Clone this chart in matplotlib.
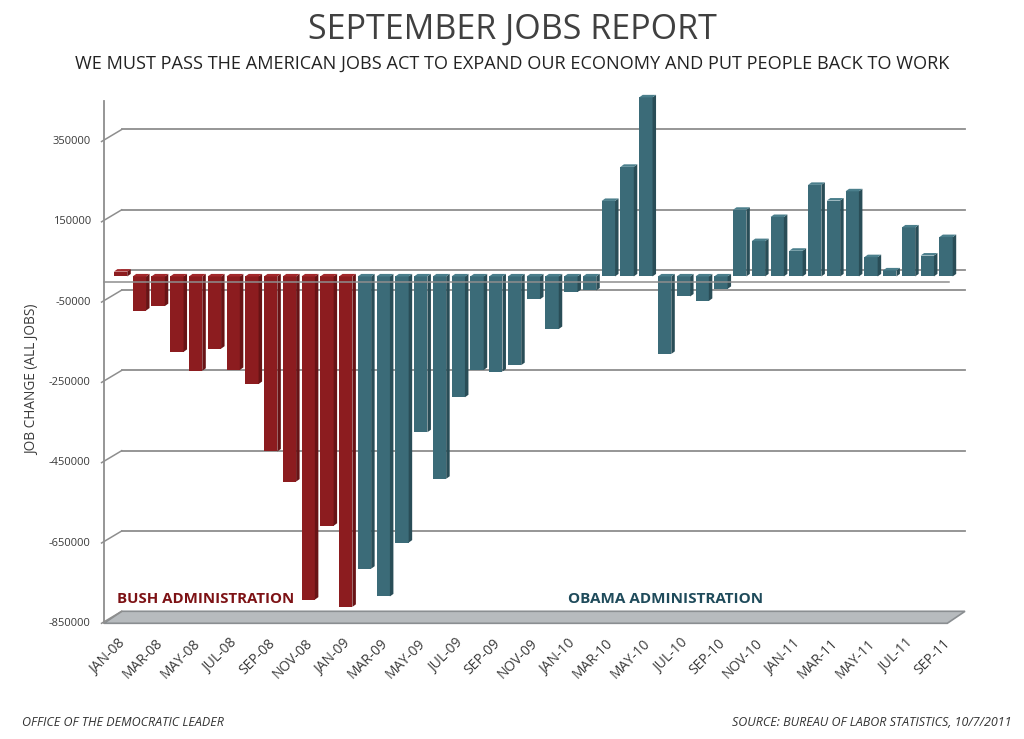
"""September jobs report: monthly payroll change, Bush vs Obama months, Excel-style 3D bars."""

import matplotlib

matplotlib.use("Agg")
import matplotlib.pyplot as plt
from matplotlib.patches import Polygon

plt.rcParams["font.family"] = ["Open Sans", "DejaVu Sans"]

months = [
    "JAN-08", "FEB-08", "MAR-08", "APR-08", "MAY-08", "JUN-08", "JUL-08", "AUG-08",
    "SEP-08", "OCT-08", "NOV-08", "DEC-08", "JAN-09", "FEB-09", "MAR-09", "APR-09",
    "MAY-09", "JUN-09", "JUL-09", "AUG-09", "SEP-09", "OCT-09", "NOV-09", "DEC-09",
    "JAN-10", "FEB-10", "MAR-10", "APR-10", "MAY-10", "JUN-10", "JUL-10", "AUG-10",
    "SEP-10", "OCT-10", "NOV-10", "DEC-10", "JAN-11", "FEB-11", "MAR-11", "APR-11",
    "MAY-11", "JUN-11", "JUL-11", "AUG-11", "SEP-11",
]
job_change = [
    12000, -85000, -74000, -188000, -235000, -180000, -233000, -268000,
    -436000, -511000, -805000, -621000, -823000, -728000, -797000, -663000,
    -388000, -504000, -301000, -233000, -237000, -221000, -57000, -131000,
    -39000, -35000, 188000, 273000, 446000, -193000, -50000, -61000,
    -31000, 166000, 88000, 148000, 64000, 228000, 189000, 212000,
    48000, 15000, 122000, 52000, 98000,
]
n_bush = 13  # JAN-08 .. JAN-09
y_ticks = [350000, 150000, -50000, -250000, -450000, -650000, -850000]

BUSH = {"front": "#8c1c1f", "side": "#681315", "top": "#a3292c"}
OBAMA = {"front": "#3b6b78", "side": "#294d57", "top": "#4b7f8c"}
GRID = "#8e8e8e"

W, H = 1024, 739
PX_X = 18.76            # pixels per month
PX_Y = 80.3 / 200000    # pixels per job
AX_LEFT, AX_BOTTOM, AX_TOP = 104, 623.3, 101

fig = plt.figure(figsize=(W / 100, H / 100), dpi=100)
ax = fig.add_axes([
    AX_LEFT / W,
    (H - AX_BOTTOM) / H,
    len(months) * PX_X / W,
    (AX_BOTTOM - AX_TOP) / H,
])
y_min = -850000
y_max = y_min + (AX_BOTTOM - AX_TOP) / PX_Y
ax.set_xlim(0, len(months))
ax.set_ylim(y_min, y_max)
ax.axis("off")

# depth of the back wall and of the bars, in data units
wall_dx, wall_dy = 17.7 / PX_X, 12 / PX_Y
bar_dx, bar_dy = 3.5 / PX_X, 2.5 / PX_Y
bar_base = 5.6 / PX_Y
bar_off, bar_w = 0.53, 0.71
x_right = (965 - AX_LEFT) / PX_X

# floor
floor = Polygon(
    [(0, y_min), (wall_dx, y_min + wall_dy), (x_right, y_min + wall_dy),
     (x_right - wall_dx, y_min)],
    closed=True, facecolor="#b7bbbe", edgecolor="#8a8e91", lw=1.2, clip_on=False, zorder=1,
)
ax.add_patch(floor)

# back-wall gridlines and the slanted ticks joining them to the front axis
for v in y_ticks[:-1] + [0]:
    ax.plot([wall_dx, x_right], [v + wall_dy, v + wall_dy], color=GRID, lw=1.3,
            clip_on=False, zorder=1)
for v in y_ticks:
    ax.plot([-0.13, wall_dx], [v, v + wall_dy], color=GRID, lw=1.1, clip_on=False, zorder=1)
    ax.text(-0.7, v, f"{v}", ha="right", va="center", fontsize=8, color="#3a3a3a")

# front axis and front zero line
ax.plot([0, 0], [y_min, y_max], color=GRID, lw=1.3, clip_on=False, zorder=2)
ax.plot([0, (949 - AX_LEFT) / PX_X], [0, 0], color=GRID, lw=1.1, clip_on=False, zorder=4)

# 3D bars
for i, v in enumerate(job_change):
    col = BUSH if i < n_bush else OBAMA
    x0 = i + bar_off
    x1 = x0 + bar_w
    lo, hi = sorted([bar_base, bar_base + v])
    ax.bar(x0, hi - lo, width=bar_w, bottom=lo, align="edge", color=col["front"],
           lw=0, zorder=3, clip_on=False)
    side = Polygon([(x1, lo), (x1 + bar_dx, lo + bar_dy), (x1 + bar_dx, hi + bar_dy), (x1, hi)],
                   closed=True, facecolor=col["side"], lw=0, zorder=3, clip_on=False)
    top = Polygon([(x0, hi), (x0 + bar_dx, hi + bar_dy), (x1 + bar_dx, hi + bar_dy), (x1, hi)],
                  closed=True, facecolor=col["top"], lw=0, zorder=3, clip_on=False)
    ax.add_patch(side)
    ax.add_patch(top)

# category labels, every other month
for i in range(0, len(months), 2):
    ax.text(i + bar_off + 0.185, y_min - 12.7 / PX_Y, months[i], rotation=45, ha="right",
            va="top", rotation_mode="anchor", fontsize=10, color="#3a3a3a")

ax.text(0.7, -790000, "BUSH ADMINISTRATION", fontsize=10.8, fontweight="bold",
        color="#7d1215", va="center", ha="left")
ax.text(24.75, -790000, "OBAMA ADMINISTRATION", fontsize=11, fontweight="bold",
        color="#1f4b5b", va="center", ha="left")

fig.text(33 / W, 1 - 380 / H, "JOB CHANGE (ALL JOBS)", rotation=90, ha="center", va="center",
         fontsize=9.8, color="#3a3a3a")
fig.text(0.5, 1 - 30 / H, "SEPTEMBER JOBS REPORT", ha="center", va="center",
         fontsize=24.5, color="#404040")
fig.text(0.5, 1 - 64 / H,
         "WE MUST PASS THE AMERICAN JOBS ACT TO EXPAND OUR ECONOMY AND PUT PEOPLE BACK TO WORK",
         ha="center", va="center", fontsize=13.1, color="#222222")
fig.text(22 / W, 1 - 722 / H, "OFFICE OF THE DEMOCRATIC LEADER", ha="left", va="center",
         fontsize=9, style="italic", color="#333333")
fig.text(1012 / W, 1 - 722 / H, "SOURCE: BUREAU OF LABOR STATISTICS, 10/7/2011", ha="right",
         va="center", fontsize=9, style="italic", color="#333333")

fig.savefig("out.png", dpi=100, facecolor="white")
